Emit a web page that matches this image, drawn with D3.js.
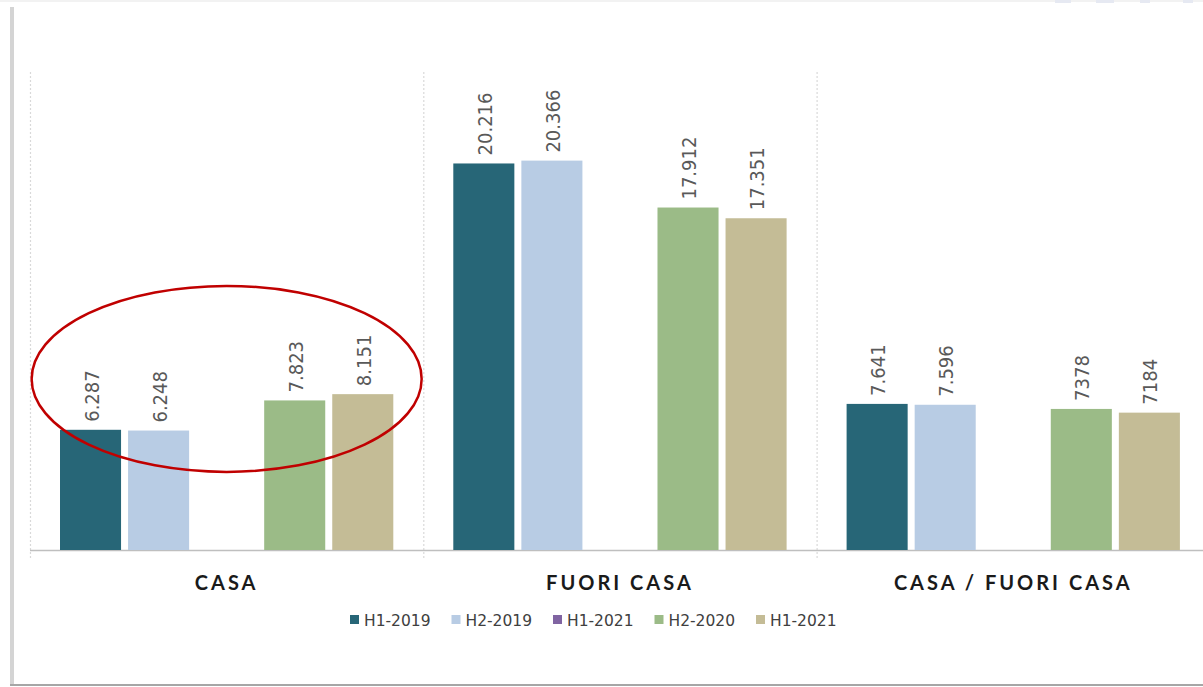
<!DOCTYPE html>
<html>
<head>
<meta charset="utf-8">
<script src="https://cdn.jsdelivr.net/npm/d3@7"></script>
<style>
  html, body { margin: 0; padding: 0; background: #fff; }
  svg { display: block; }
</style>
</head>
<body>
<svg id="chart" width="1203" height="687"></svg>
<script>
const categories = ["CASA", "FUORI CASA", "CASA / FUORI CASA"];
const seriesNames = ["H1-2019", "H2-2019", "H1-2021", "H2-2020", "H1-2021"];
const seriesColors = ["#276677", "#b8cce4", "#8064a2", "#9bbb87", "#c4bc96"];
// values per series, one per category (third series has no data)
const s0 = [6.287, 20.216, 7.641];
const s1 = [6.248, 20.366, 7.596];
const s2 = [null, null, null];
const s3 = [7.823, 17.912, 7.378];
const s4 = [8.151, 17.351, 7.184];
const labels0 = ["6.287", "20.216", "7.641"];
const labels1 = ["6.248", "20.366", "7.596"];
const labels2 = ["", "", ""];
const labels3 = ["7.823", "17.912", "7378"];
const labels4 = ["8.151", "17.351", "7184"];
const yDomain = [0, 25];

const seriesValues = [s0, s1, s2, s3, s4];
const seriesLabels = [labels0, labels1, labels2, labels3, labels4];

const svg = d3.select("#chart");

// frame
svg.append("rect").attr("x", 0).attr("y", 0).attr("width", 1203).attr("height", 2).attr("fill", "#f2f2f2");
svg.append("rect").attr("x", 10).attr("y", 7).attr("width", 4).attr("height", 678).attr("fill", "#d4d4d4");
svg.append("rect").attr("x", 10).attr("y", 684).attr("width", 1193).attr("height", 2).attr("fill", "#a6a6a6");
// faint marks at the top right
[[1055, 16], [1096, 18], [1140, 10], [1183, 10]].forEach(([x, w]) => {
  svg.append("rect").attr("x", x).attr("y", 0).attr("width", w).attr("height", 3).attr("fill", "#e6e9f2");
});

const plotLeft = 30, plotTop = 72, baseY = 550;
const stepW = 393.3;
const x0 = d3.scaleBand().domain(categories).range([plotLeft, plotLeft + stepW * categories.length]).padding(0);
const innerPad = 30;
const x1 = d3.scaleBand().domain(d3.range(seriesNames.length))
  .range([innerPad, x0.bandwidth() - innerPad]).paddingInner(0.103).paddingOuter(0);
const y = d3.scaleLinear().domain(yDomain).range([baseY, plotTop]);

// vertical dotted gridlines at category boundaries
const bounds = categories.map(c => x0(c));
svg.append("g").selectAll("line").data(bounds).join("line")
  .attr("x1", d => d + 0.5).attr("x2", d => d + 0.5)
  .attr("y1", plotTop).attr("y2", baseY + 10)
  .attr("stroke", "#d9d9d9").attr("stroke-width", 1.2)
  .attr("stroke-dasharray", "2,2");

// baseline axis
const xAxis = d3.axisBottom(x0).tickSize(0).tickFormat("");
const ax = svg.append("g").attr("transform", `translate(0,${baseY})`).call(xAxis);
ax.select(".domain").remove();
svg.append("line").attr("x1", plotLeft).attr("x2", 1203)
  .attr("y1", baseY + 0.5).attr("y2", baseY + 0.5)
  .attr("stroke", "#bfbfbf").attr("stroke-width", 1.3);

// bars
const groups = svg.append("g").selectAll("g").data(categories).join("g")
  .attr("transform", c => `translate(${x0(c)},0)`);

seriesValues.forEach((vals, si) => {
  groups.append("rect")
    .filter((c, ci) => vals[ci] != null)
    .attr("x", x1(si))
    .attr("width", x1.bandwidth())
    .attr("y", (c, ci) => y(vals[ci]))
    .attr("height", (c, ci) => baseY - y(vals[ci]))
    .attr("fill", seriesColors[si]);
});

// value labels (rotated)
seriesValues.forEach((vals, si) => {
  groups.append("text")
    .filter((c, ci) => vals[ci] != null)
    .attr("transform", (c, ci) => `translate(${x1(si) + x1.bandwidth() / 2 + 8},${y(vals[ci]) - 8}) rotate(-90)`)
    .attr("text-anchor", "start")
    .style("font-family", "'Liberation Sans Narrow','Arial Narrow','DejaVu Sans Condensed','Liberation Sans',sans-serif")
    .style("font-size", "20px")
    .attr("fill", "#595959")
    .text((c, ci) => seriesLabels[si][ci]);
});

// category labels
svg.append("g").selectAll("text").data(categories).join("text")
  .attr("x", c => x0(c) + x0.bandwidth() / 2)
  .attr("y", 590)
  .attr("text-anchor", "middle")
  .style("font-family", "'Lato','DejaVu Sans',sans-serif")
  .style("font-weight", "bold")
  .style("font-size", "20px")
  .style("letter-spacing", "3px")
  .attr("fill", "#1a1a1a")
  .text(d => d);

// annotation ellipse around CASA group
const casaX = x0("CASA") + x0.bandwidth() / 2;
svg.append("ellipse")
  .attr("cx", casaX).attr("cy", y(8.95))
  .attr("rx", 195).attr("ry", 93)
  .attr("fill", "none").attr("stroke", "#c00000").attr("stroke-width", 2.5);

// legend
const legendX = d3.scalePoint().domain(d3.range(seriesNames.length)).range([350, 756]);
const leg = svg.append("g").selectAll("g").data(seriesNames).join("g")
  .attr("transform", (d, i) => `translate(${legendX(i)},620)`);
leg.append("rect").attr("x", 0).attr("y", -5).attr("width", 9).attr("height", 9)
  .attr("fill", (d, i) => seriesColors[i]);
leg.append("text").attr("x", 14).attr("y", 6)
  .style("font-family", "'DejaVu Sans','Noto Sans',sans-serif")
  .style("font-size", "15.5px")
  .attr("fill", "#404040")
  .text(d => d);
</script>
</body>
</html>
